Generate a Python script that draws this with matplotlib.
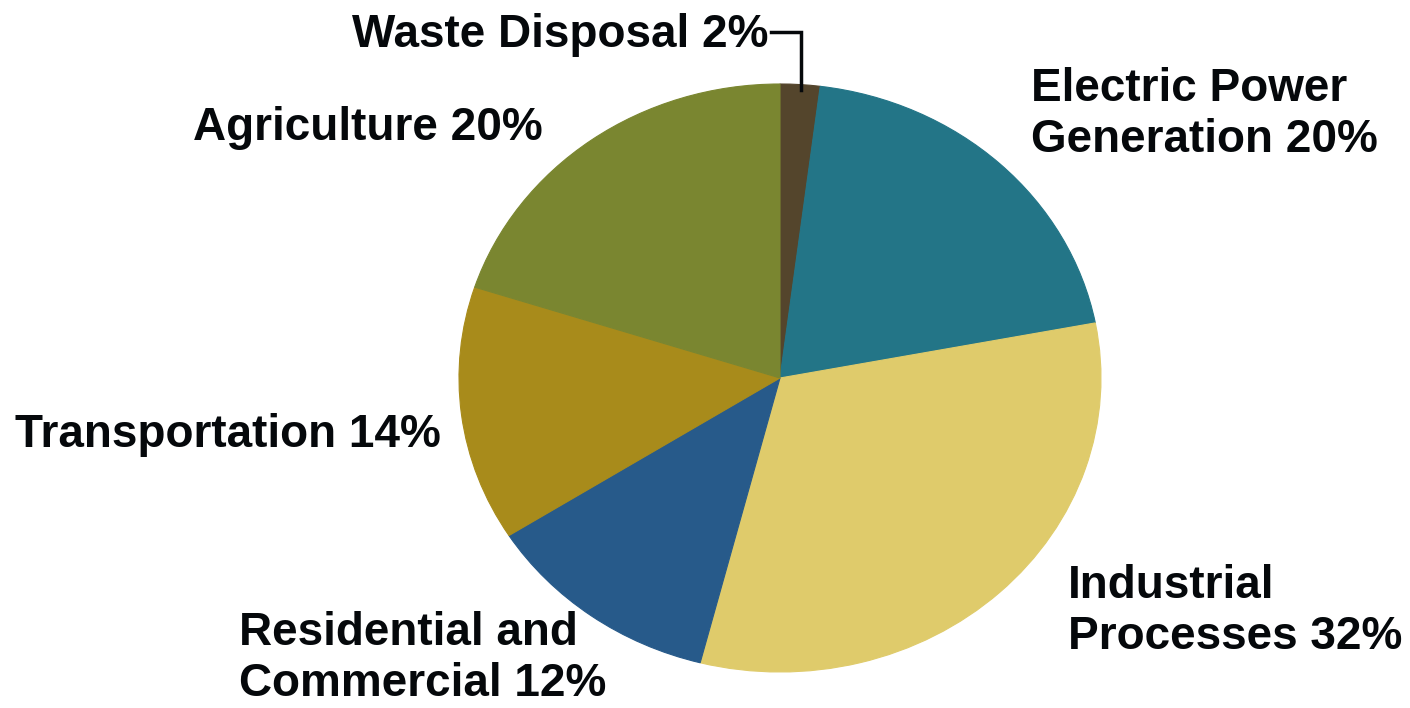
import matplotlib.pyplot as plt
from matplotlib.lines import Line2D

# shares of emissions, clockwise from 12 o'clock
sources = ['Waste Disposal', 'Electric Power\nGeneration', 'Industrial\nProcesses',
           'Residential and\nCommercial', 'Transportation', 'Agriculture']
shares = [2, 20, 32, 12, 14, 20]
colors = ['#54452c', '#237587', '#dfcb6b', '#275a8a', '#a88b1b', '#7a8630']

W, H = 1410, 708
fig = plt.figure(figsize=(W / 100, H / 100), dpi=100)
fig.patch.set_facecolor('white')

# pie axes sits over the (slightly squashed) pie area
cx, cy, rx, ry = 780, 378, 321, 294
ax = fig.add_axes([(cx - rx) / W, (H - cy - ry) / H, 2 * rx / W, 2 * ry / H])
wedges, _ = ax.pie(shares, colors=colors, startangle=90, counterclock=False)
for w, c in zip(wedges, colors):
    w.set_edgecolor(c)
    w.set_linewidth(0.8)
ax.set_aspect('auto')
ax.set_xlim(-1, 1)
ax.set_ylim(-1, 1)
ax.axis('off')

# overlay in pixel coords for labels
ov = fig.add_axes([0, 0, 1, 1], facecolor='none')
ov.set_xlim(0, W)
ov.set_ylim(H, 0)
ov.axis('off')

# left x, baseline y of the last line
label_pos = [(352, 47), (1031, 152), (1068, 649), (239, 696), (15, 447), (193, 140)]
for name, val, (lx, ly) in zip(sources, shares, label_pos):
    ov.text(lx, ly, f'{name} {val}%', ha='left', va='baseline',
            fontsize=33, fontweight='bold', family='Liberation Sans',
            color='#05080b', linespacing=1.21)

# leader line for the tiny waste slice
ov.add_line(Line2D([771, 801, 801], [32, 32, 90], color='#05080b', lw=2.5,
                   solid_joinstyle='miter'))

fig.savefig('out.png', dpi=100)
